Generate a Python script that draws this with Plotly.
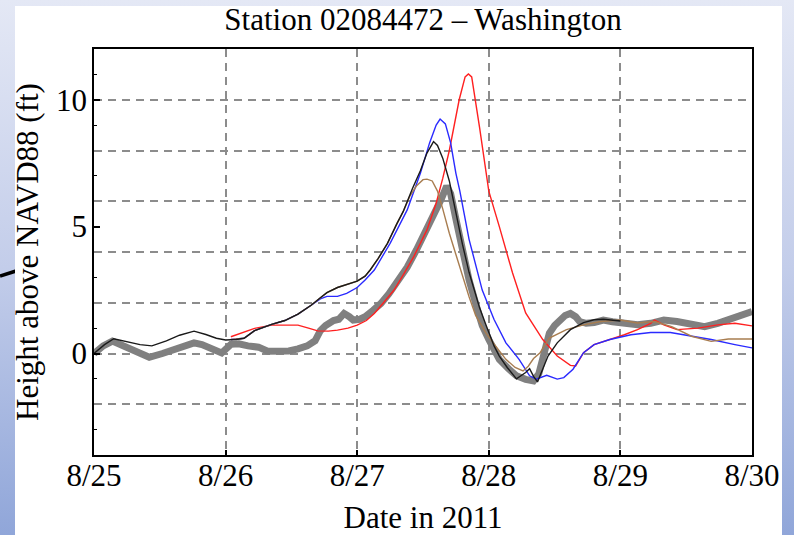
import base64
import pandas as pd
import plotly.graph_objects as go

# ---------------- data (days after 2011-08-25 00:00, height in ft) ----------------
obs_days = [0.00, 0.07, 0.14, 0.22, 0.32, 0.42, 0.52, 0.60, 0.70, 0.76, 0.82, 0.88, 0.97,
            1.04, 1.10, 1.17, 1.25, 1.32, 1.40, 1.48, 1.55, 1.62, 1.68, 1.72, 1.76, 1.82,
            1.86, 1.90, 1.94, 1.97, 2.02, 2.06, 2.12, 2.18, 2.24, 2.30, 2.38, 2.45, 2.50,
            2.55, 2.60, 2.64, 2.68, 2.71, 2.75, 2.80, 2.85, 2.90, 2.95, 3.00, 3.08, 3.15,
            3.21, 3.28, 3.34, 3.38, 3.41, 3.46, 3.50, 3.54, 3.58, 3.62, 3.66, 3.69, 3.74,
            3.80, 3.87, 3.94, 4.00, 4.07, 4.13, 4.23, 4.33, 4.43, 4.54, 4.64, 4.74, 4.87, 5.00]
obs_ft = [0.00, 0.30, 0.49, 0.29, 0.05, -0.15, 0.00, 0.16, 0.35, 0.42, 0.35, 0.22, 0.02,
          0.36, 0.38, 0.30, 0.25, 0.09, 0.08, 0.10, 0.18, 0.30, 0.50, 0.90, 1.10, 1.30,
          1.35, 1.58, 1.45, 1.32, 1.35, 1.45, 1.70, 1.97, 2.35, 2.76, 3.40, 4.08, 4.60,
          5.13, 5.60, 6.10, 6.60, 6.30, 5.30, 3.95, 2.90, 1.97, 1.10, 0.55, -0.23, -0.60,
          -0.88, -1.02, -1.08, -0.80, -0.23, 0.80, 1.10, 1.32, 1.50, 1.58, 1.45, 1.26, 1.19,
          1.22, 1.32, 1.25, 1.19, 1.15, 1.13, 1.19, 1.32, 1.26, 1.13, 1.06, 1.19, 1.45, 1.65]

black_days = [0.00, 0.08, 0.15, 0.25, 0.35, 0.44, 0.55, 0.65, 0.76, 0.85, 0.93, 1.00, 1.08,
              1.14, 1.22, 1.35, 1.45, 1.55, 1.65, 1.72, 1.77, 1.85, 1.92, 2.00, 2.06, 2.10,
              2.16, 2.23, 2.30, 2.35, 2.42, 2.48, 2.53, 2.58, 2.61, 2.65, 2.70, 2.75, 2.80,
              2.85, 2.93, 2.98, 3.04, 3.08, 3.14, 3.21, 3.28, 3.31, 3.34, 3.37, 3.41, 3.45,
              3.52, 3.62, 3.72, 3.80, 3.87, 3.95, 4.00]
black_ft = [0.00, 0.35, 0.58, 0.48, 0.35, 0.30, 0.50, 0.72, 0.88, 0.75, 0.60, 0.53, 0.55,
            0.60, 0.90, 1.15, 1.30, 1.55, 1.90, 2.20, 2.40, 2.60, 2.72, 2.85, 3.05, 3.30,
            3.75, 4.34, 5.10, 5.60, 6.50, 7.20, 7.90, 8.35, 8.20, 7.70, 6.80, 5.50, 4.30,
            3.20, 1.80, 1.10, 0.30, -0.10, -0.55, -1.00, -0.75, -0.60, -0.90, -1.12, -0.60, -0.10,
            0.42, 0.94, 1.22, 1.33, 1.35, 1.30, 1.28]

blue_days = [1.04, 1.14, 1.22, 1.35, 1.45, 1.55, 1.65, 1.72, 1.77, 1.85, 1.92, 2.00, 2.06,
             2.13, 2.25, 2.38, 2.48, 2.55, 2.60, 2.63, 2.67, 2.71, 2.75, 2.78, 2.85, 2.95,
             3.04, 3.13, 3.23, 3.31, 3.36, 3.44, 3.52, 3.57, 3.64, 3.72, 3.80, 3.92, 4.08,
             4.23, 4.38, 4.54, 4.69, 4.87, 5.00]
blue_ft = [0.55, 0.60, 0.90, 1.15, 1.30, 1.55, 1.90, 2.15, 2.25, 2.25, 2.37, 2.60, 2.90,
           3.29, 4.34, 5.66, 7.10, 8.30, 9.00, 9.24, 9.05, 8.30, 7.10, 6.40, 4.50, 2.50,
           1.34, 0.42, -0.23, -0.88, -1.01, -0.86, -1.01, -0.95, -0.62, 0.03, 0.35, 0.55, 0.74,
           0.83, 0.83, 0.68, 0.55, 0.35, 0.22]

brown_days = [1.04, 1.14, 1.22, 1.35, 1.45, 1.55, 1.65, 1.72, 1.77, 1.85, 1.92, 2.00, 2.06,
              2.10, 2.16, 2.23, 2.30, 2.35, 2.40, 2.45, 2.50, 2.53, 2.57, 2.61, 2.65, 2.70,
              2.75, 2.80, 2.85, 2.90, 2.98, 3.08, 3.13, 3.20, 3.26, 3.30, 3.34, 3.39, 3.46,
              3.59, 3.72, 3.85, 4.00, 4.13, 4.26, 4.39, 4.54, 4.69, 4.82, 5.00]
brown_ft = [0.55, 0.60, 0.90, 1.15, 1.30, 1.55, 1.90, 2.20, 2.40, 2.60, 2.72, 2.85, 3.05,
            3.30, 3.75, 4.34, 5.10, 5.60, 6.20, 6.60, 6.85, 6.87, 6.80, 6.40, 5.70, 4.74,
            3.90, 3.04, 2.24, 1.50, 0.79, 0.10, -0.23, -0.55, -0.69, -0.50, -0.20, 0.03, 0.61,
            0.94, 1.13, 1.26, 1.32, 1.20, 1.26, 1.06, 0.68, 0.48, 0.57, 0.57]

red_days = [1.04, 1.12, 1.22, 1.35, 1.45, 1.55, 1.63, 1.70, 1.78, 1.85, 1.93, 2.00, 2.07,
            2.13, 2.20, 2.28, 2.35, 2.43, 2.53, 2.60, 2.65, 2.70, 2.775, 2.82, 2.845, 2.87,
            2.93, 3.00, 3.08, 3.18, 3.28, 3.41, 3.52, 3.62, 3.66, 3.72, 3.80, 3.92, 4.03,
            4.13, 4.23, 4.26, 4.33, 4.43, 4.59, 4.74, 4.87, 5.00]
red_ft = [0.66, 0.80, 0.99, 1.12, 1.13, 1.12, 1.00, 0.89, 0.88, 0.92, 1.00, 1.12, 1.30,
          1.58, 2.00, 2.50, 3.10, 3.82, 4.87, 5.92, 6.90, 8.00, 10.00, 10.90, 11.02, 10.90,
          8.90, 6.40, 5.00, 3.18, 1.60, 0.55, -0.10, -0.47, -0.49, 0.03, 0.35, 0.55, 0.74,
          0.94, 1.19, 1.32, 1.13, 0.94, 1.00, 1.13, 1.19, 1.09]

date_ticks = ["2011-08-25", "2011-08-26", "2011-08-27", "2011-08-28", "2011-08-29", "2011-08-30"]
date_labels = ["8/25", "8/26", "8/27", "8/28", "8/29", "8/30"]
y_labels = [0, 5, 10]

BASE = pd.Timestamp("2011-08-25")


def to_dates(days):
    return BASE + pd.to_timedelta(days, unit="D")


FONT = "Liberation Serif, Times New Roman, serif"
FS = 31

fig = go.Figure()
fig.add_trace(go.Scatter(x=to_dates(obs_days), y=obs_ft, mode="lines",
                         line=dict(color="#808080", width=7), name="Observed"))
fig.add_trace(go.Scatter(x=to_dates(red_days), y=red_ft, mode="lines",
                         line=dict(color="#ff2020", width=1.4), name="Model (red)"))
fig.add_trace(go.Scatter(x=to_dates(blue_days), y=blue_ft, mode="lines",
                         line=dict(color="#2a2aff", width=1.4), name="Model (blue)"))
fig.add_trace(go.Scatter(x=to_dates(brown_days), y=brown_ft, mode="lines",
                         line=dict(color="#a87d50", width=1.4), name="Model (brown)"))
fig.add_trace(go.Scatter(x=to_dates(black_days), y=black_ft, mode="lines",
                         line=dict(color="#1a1a1a", width=1.4), name="Model (black)"))
# empty trace so that the label axis is drawn
fig.add_trace(go.Scatter(x=[], y=[], yaxis="y2", showlegend=False, hoverinfo="skip"))

# figure / plot-area geometry in pixels
FW, FH = 794, 535
L, T, W, H = 94, 49, 658, 406
R = FW - L - W
B = FH - T - H


def px(xp):
    return (xp - L) / W


def py(yp):
    return (T + H - yp) / H


svg = ('<svg xmlns="http://www.w3.org/2000/svg" width="794" height="535" '
       'preserveAspectRatio="none">'
       '<defs><linearGradient id="g" x1="0" y1="0" x2="0" y2="1">'
       '<stop offset="0" stop-color="#e4e8f5"/>'
       '<stop offset="0.5" stop-color="#c3cdea"/>'
       '<stop offset="1" stop-color="#90a6d9"/>'
       '</linearGradient></defs>'
       '<rect width="794" height="535" fill="url(#g)"/>'
       '<line x1="0" y1="276" x2="16" y2="271" stroke="black" stroke-width="3.5"/>'
       '</svg>')
src = "data:image/svg+xml;base64," + base64.b64encode(svg.encode()).decode()

grid = dict(showgrid=True, gridcolor="#8c8c8c", gridwidth=1.5, griddash="8px,6px")

fig.update_layout(
    autosize=True,
    margin=dict(l=L, r=R, t=T, b=B, pad=0, autoexpand=False),
    paper_bgcolor="#c3cdea", plot_bgcolor="white",
    showlegend=False,
    font=dict(family=FONT, size=FS, color="black"),
    title=dict(text="Station 02084472 \u2013 Washington", x=px(L + W / 2), xref="paper",
               xanchor="center", yref="container", y=1 - 19 / FH, yanchor="middle",
               font=dict(family=FONT, size=FS, color="black")),
    xaxis=dict(type="date", range=[date_ticks[0], date_ticks[-1]],
               tickvals=date_ticks, ticktext=date_labels,
               ticks="inside", ticklen=5, tickwidth=1.5, tickcolor="black",
               showline=True, mirror=True, linecolor="black", linewidth=1.5,
               zeroline=False, automargin=False, ticklabelstandoff=-8,
               title=dict(text="Date in 2011", standoff=16, font=dict(size=FS)),
               tickfont=dict(size=FS), **grid),
    yaxis=dict(range=[-4, 12], dtick=2, tick0=0, showticklabels=False, ticks="",
               showline=True, mirror=True, linecolor="black", linewidth=1.5,
               zeroline=False, automargin=False,
               minor=dict(dtick=1, tick0=0, ticks="inside", ticklen=3, tickwidth=1.3,
                          tickcolor="black", showgrid=False),
               **grid),
    yaxis2=dict(range=[-4, 12], overlaying="y", side="left", tickvals=y_labels,
                ticks="inside", ticklen=6, tickwidth=1.5, tickcolor="black",
                showgrid=False, zeroline=False, showline=False, automargin=False,
                tickfont=dict(size=FS), ticklabelstandoff=6,
                title=dict(text="Height above NAVD88 (ft)", standoff=8, font=dict(size=FS))),
    images=[dict(source=src, xref="paper", yref="paper", x=px(0), y=py(0),
                 sizex=FW / W, sizey=FH / H, sizing="stretch",
                 xanchor="left", yanchor="top", layer="below")],
    shapes=[
        dict(type="rect", xref="paper", yref="paper", x0=px(15), x1=px(782),
             y0=py(545), y1=py(6), fillcolor="white", line=dict(width=0), layer="below"),
    ],
)

# place the figure div at the page origin with an exact 794x535 size
fig.write_html("out.html",
               config={"displayModeBar": False},
               default_width=f"{FW}px; position:absolute; left:0; top:0; margin:0",
               default_height=f"{FH}px")
